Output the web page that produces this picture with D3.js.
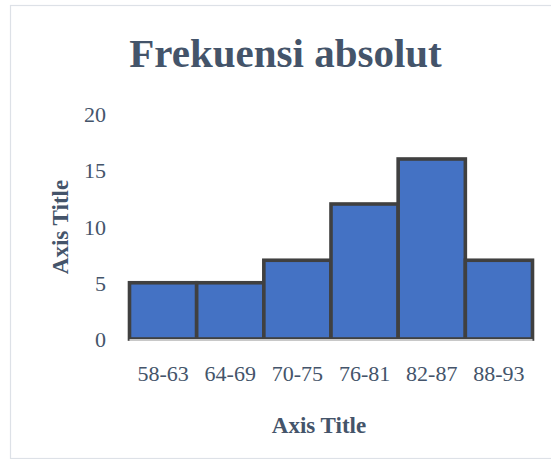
<!DOCTYPE html>
<html><head><meta charset="utf-8">
<script src="https://cdn.jsdelivr.net/npm/d3@7"></script>
<style>html,body{margin:0;padding:0;background:#fff;}svg{display:block;}</style>
</head><body>
<script>
const categories = ["58-63","64-69","70-75","76-81","82-87","88-93"];
const values = [5,5,7,12,16,7];
const yTicks = [0,5,10,15,20];
const titleText = "Frekuensi absolut";
const xTitleText = "Axis Title";
const yTitleText = "Axis Title";

const W = 551, H = 459;
const textColor = "#44546A";
const font = "'Liberation Serif','Times New Roman',serif";

const svg = d3.select("body").append("svg").attr("width", W).attr("height", H);

// chart border
svg.append("rect").attr("x",10.5).attr("y",5.5).attr("width",560).attr("height",453)
  .attr("fill","#fff").attr("stroke","#dde1e7").attr("stroke-width",1.2);

const x = d3.scaleBand().domain(categories).range([129.5, 532.5]).padding(0);
const y = d3.scaleLinear().domain([0,20]).range([339, 114]);

// title
svg.append("text").attr("x",285.5).attr("y",67).attr("text-anchor","middle")
  .attr("font-family",font).attr("font-weight","bold").attr("font-size",41)
  .attr("fill",textColor).text(titleText);

// bars
svg.append("g").selectAll("rect").data(values).join("rect")
  .attr("x",(d,i)=>x(categories[i]))
  .attr("y",d=>y(d))
  .attr("width",x.bandwidth())
  .attr("height",d=>y(0)-y(d))
  .attr("fill","#4472C4").attr("stroke","#404040").attr("stroke-width",3.6);

// axis line
svg.append("line").attr("x1",129.5).attr("x2",532.5).attr("y1",340).attr("y2",340)
  .attr("stroke","#c8c8c8").attr("stroke-width",2);

// y axis labels
const yAxis = d3.axisLeft(y).tickValues(yTicks).tickSize(0).tickPadding(0);
const yg = svg.append("g").attr("transform","translate(106,0)").call(yAxis);
yg.select(".domain").remove();
yg.selectAll("text").attr("font-family",font).attr("font-size",22).attr("fill",textColor).attr("dy","0.35em");

// x axis labels
const xAxis = d3.axisBottom(x).tickSize(0).tickPadding(0);
const xg = svg.append("g").attr("transform","translate(0,365)").call(xAxis);
xg.select(".domain").remove();
xg.selectAll("text").attr("font-family",font).attr("font-size",22).attr("fill",textColor).attr("dy","0.71em");

// axis titles
svg.append("text").attr("x",319).attr("y",433).attr("text-anchor","middle")
  .attr("font-family",font).attr("font-weight","bold").attr("font-size",23)
  .attr("fill",textColor).text(xTitleText);
svg.append("text").attr("transform","translate(68,227) rotate(-90)").attr("text-anchor","middle")
  .attr("font-family",font).attr("font-weight","bold").attr("font-size",23)
  .attr("fill",textColor).text(yTitleText);
</script>
</body></html>
